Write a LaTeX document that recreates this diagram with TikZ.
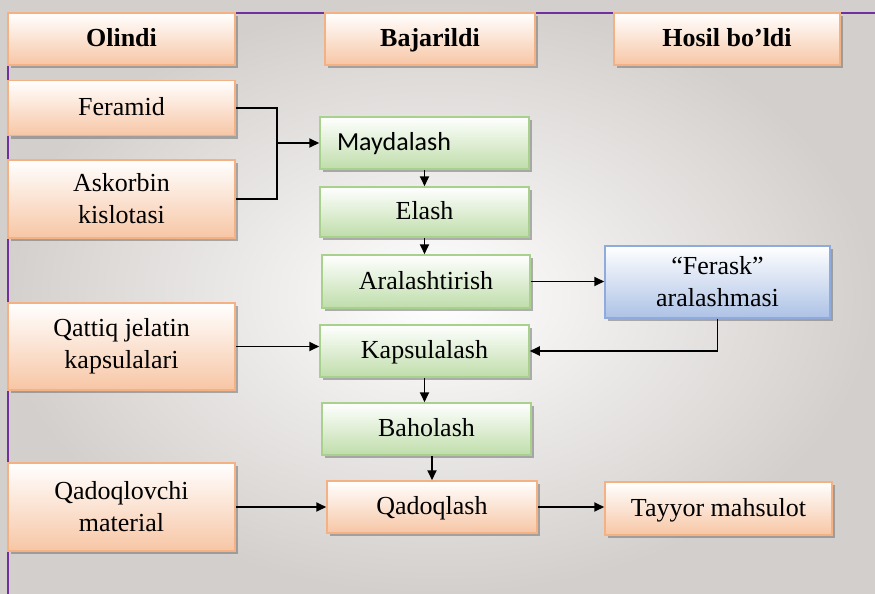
\documentclass[tikz,border=0pt]{standalone}
\usepackage{fontspec}
\setmainfont{Liberation Serif}
\newfontfamily\calibrifont{Carlito}
\usepackage{tikz}
\usetikzlibrary{arrows.meta, positioning, shadows}
\definecolor{orangeline}{HTML}{F4B183}
\definecolor{orangefill}{HTML}{F7C6A5}
\definecolor{greenline}{HTML}{A9D18E}
\definecolor{greenfill}{HTML}{BFDDAA}
\definecolor{blueline}{HTML}{8FAADC}
\definecolor{bluefill}{HTML}{ADC2E6}
\definecolor{frameline}{HTML}{7030A0}
\definecolor{backgr}{HTML}{D3CFCC}
\tikzset{
        >={Stealth[length=10pt, width=9pt, inset=0pt]}, % filled arrow heads
        box/.style={draw, line width=1.5pt, align=center, inner sep=2pt,
            font=\fontsize{26}{32}\selectfont,
            drop shadow={shadow xshift=3pt, shadow yshift=-3pt, fill=black!55, opacity=.55}}, % every box
        oneline/.style={text height=19pt, text depth=4pt}, % single line labels
        orangebox/.style={box, draw=orangeline, top color=white, bottom color=orangefill},
        greenbox/.style={box, oneline, draw=greenline, top color=white, bottom color=greenfill},
        bluebox/.style={box, draw=blueline, top color=white, bottom color=bluefill},
        headbox/.style={orangebox, oneline, font=\fontsize{26}{32}\selectfont\bfseries},
        flow/.style={->, draw=black, line width=1.8pt}, % connectors
    }

\begin{document}
\begin{tikzpicture}[x=1pt, y=-1pt]
    \useasboundingbox (0,0) rectangle (875,594);
    % background
    \fill[backgr] (0,0) rectangle (875,594);
    \shade[inner color=white, outer color=backgr] (0,0) rectangle (875,594);
    \draw[frameline, line width=1.4pt] (8,594) -- (8,13) -- (875,13);

    % headings
    \node[headbox, minimum width=227pt, minimum height=52pt] (olindi) at (121.5,39) {Olindi};
    \node[headbox, minimum width=210pt, minimum height=52pt] (bajarildi) at (430,39) {Bajarildi};
    \node[headbox, minimum width=226pt, minimum height=52pt] (hosil) at (727,39) {Hosil bo’ldi};

    % inputs
    \node[orangebox, oneline, minimum width=227pt, minimum height=55pt] (feramid) at (121.5,108) {Feramid};
    \node[orangebox, minimum width=227pt, minimum height=78pt] (askorbin) at (121.5,199) {Askorbin\\kislotasi};
    \node[orangebox, minimum width=227pt, minimum height=87pt] (qattiq) at (121.5,346.5) {Qattiq jelatin\\kapsulalari};
    \node[orangebox, minimum width=227pt, minimum height=88pt] (qadoqlovchi) at (121.5,507) {Qadoqlovchi\\material};

    % steps
    \node[greenbox, minimum height=52pt, text width=175pt, inner xsep=17pt, align=left,
        font=\calibrifont\fontsize{26}{32}\selectfont] (maydalash) at (424.5,143) {Maydalash};
    \node[greenbox, minimum width=209pt, minimum height=50pt] (elash) at (424.5,212) {Elash};
    \node[greenbox, minimum width=208pt, minimum height=53pt] (aralash) at (426,281.5) {Aralashtirish};
    \node[greenbox, minimum width=209pt, minimum height=52pt] (kapsula) at (424.5,351) {Kapsulalash};
    \node[greenbox, minimum width=209pt, minimum height=52pt] (baholash) at (426.5,429) {Baholash};
    \node[orangebox, oneline, minimum width=210pt, minimum height=52pt] (qadoqlash) at (432,507) {Qadoqlash};

    % results
    \node[bluebox, minimum width=225pt, minimum height=72pt] (ferask) at (717.5,282) {“Ferask”\\aralashmasi};
    \node[orangebox, oneline, minimum width=227pt, minimum height=53pt] (tayyor) at (718.5,508.5) {Tayyor mahsulot};

    \coordinate (join) at (277,143);
    \draw[line width=1.8pt] (feramid.east) -| (join) |- (askorbin.east);
    \draw[flow] (join) -- (join -| maydalash.west);
    \draw[flow] (maydalash) -- (elash);
    \draw[flow] (elash.south) -- (elash.south |- aralash.north);
    \draw[flow] (aralash.east) -- (aralash.east -| ferask.west);
    \draw[flow] (ferask.south) |- (kapsula.east);
    \draw[flow] (qattiq.east) -- (qattiq.east -| kapsula.west);
    \draw[flow] (kapsula.south) -- (kapsula.south |- baholash.north);
    \draw[flow] (baholash.south -| qadoqlash.north) -- (qadoqlash.north);
    \draw[flow] (qadoqlovchi.east) -- (qadoqlovchi.east -| qadoqlash.west);
    \draw[flow] (qadoqlash.east) -- (qadoqlash.east -| tayyor.west);
\end{tikzpicture}
\end{document}
